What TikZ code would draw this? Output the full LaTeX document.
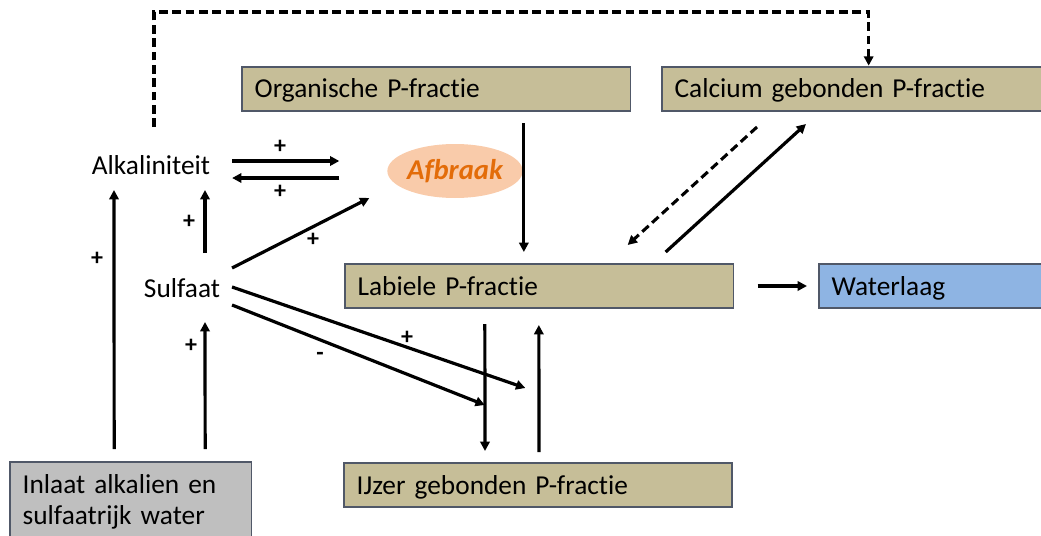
\documentclass[tikz,border=0pt]{standalone}
\usepackage{fontspec}
\setmainfont{Carlito}[Ligatures={NoCommon,NoRequired,NoContextual},WordSpace=0.8]
\usetikzlibrary{arrows.meta,calc,shapes.geometric}
\definecolor{tanfill}{RGB}{198,190,152}
\definecolor{boxline}{RGB}{80,88,104}
\definecolor{bluefill}{RGB}{142,180,227}
\definecolor{grayfill}{RGB}{191,191,191}
\definecolor{peach}{RGB}{249,203,170}
\definecolor{orangetxt}{RGB}{227,108,9}
\tikzset{
  box/.style={draw=boxline, line width=1pt, anchor=north west, align=left,
    inner xsep=9.5pt, inner ysep=0pt, outer sep=0pt, minimum height=33pt,
    text height=13.5pt, text depth=0pt,
    font=\fontsize{20.5}{23}\selectfont},
  lbl/.style={inner sep=0pt, outer sep=0pt, font=\fontsize{20.5}{23}\selectfont},
  sign/.style={inner sep=0pt, font=\fontsize{18}{20}\selectfont\bfseries},
  arr/.style={line width=2.4pt, -{Triangle[length=7pt,width=7pt]}},
  darr/.style={line width=2.3pt, dash pattern=on 6.5pt off 3.5pt, -{Triangle[length=7pt,width=7pt]}}
}
\begin{document}
\begin{tikzpicture}[x=0.75pt,y=-0.75pt]
\useasboundingbox (0,0) rectangle (1041,535);
% boxes
\node[box, fill=tanfill, text width=272.5pt] (org) at (242,67) {Organische P-fractie};
\node[box, fill=tanfill, text width=268pt] (cal) at (662,67) {Calcium gebonden P-fractie};
\node[box, fill=tanfill, text width=272.5pt] (lab) at (345,264) {Labiele P-fractie};
\node[box, fill=bluefill, text width=150.5pt] (wat) at (819,264) {Waterlaag};
\node[box, fill=tanfill, text width=272pt] (ijz) at (344,463) {IJzer gebonden P-fractie};
\node[box, fill=grayfill, text width=162pt, minimum height=60pt, text height=, text depth=, inner ysep=8pt, anchor=north west] (inl) at (10,462) {Inlaat alkalien en\\sulfaatrijk water};
% plain labels
\node[lbl] (alk) at (151,165) {Alkaliniteit};
\node[lbl] (sul) at (182,288) {Sulfaat};
\node[ellipse, fill=peach, minimum width=100.5pt, minimum height=40.5pt, inner sep=0pt, outer sep=0pt,
  text=orangetxt, font=\fontsize{21.5}{23}\selectfont\bfseries\itshape] (afb) at (455,171) {Afbraak};
% connectors
\draw[darr, shorten >=1pt] ([shift={(3,-38)}]alk.center) -- ++(0,-115) -| ([xshift=11.5]cal.north);
\draw[arr] ([shift={(22,-4)}]alk.east) -- ([shift={(-48,-10)}]afb.west);
\draw[arr] ([shift={(-48,7)}]afb.west) -- ([shift={(22,13)}]alk.east);
\draw[arr] ([shift={(-16.5,-13)}]inl.north) -- ([shift={(-37,25)}]alk.center);
\draw[arr] ([shift={(23,-35)}]sul.center) -- ([shift={(54,25)}]alk.center);
\draw[arr] ([shift={(74.5,-13)}]inl.north) -- ([shift={(23,34)}]sul.center);
\draw[arr] ([shift={(12,-20)}]sul.east) -- ([shift={(-18,27)}]afb.west);
\draw[arr] ([shift={(12,-1)}]sul.east) -- ([shift={(-14,80)}]lab.south);
\draw[arr] ([shift={(12,17)}]sul.east) -- ([shift={(-54.5,97)}]lab.south);
\draw[arr] ([shift={(87.5,12)}]org.south) -- ([shift={(-15.5,-12)}]lab.north);
\draw[darr] ([shift={(95,16)}]cal.south west) -- ([shift={(-106,-19)}]lab.north east);
\draw[arr] ([shift={(-68,-12)}]lab.north east) -- ([shift={(144,13)}]cal.south west);
\draw[arr] ([xshift=18]lab.east) -- ([xshift=-9]wat.west);
\draw[arr] ([shift={(-54.5,16)}]lab.south) -- ([shift={(-53,-12)}]ijz.north);
\draw[arr] ([shift={(1,-11)}]ijz.north) -- ([shift={(-0.5,17)}]lab.south);
% signs
\node[sign] (s1) at (280,147) {+};
\node[sign] (s2) at (280,192) {+};
\node[sign] (s3) at (97,259) {+};
\node[sign] (s4) at (189,222) {+};
\node[sign] (s5) at (191,346) {+};
\node[sign] (s6) at (313,240) {+};
\node[sign] (s7) at (407,338) {+};
\node[sign] (s8) at (320,356) {-};
\end{tikzpicture}
\end{document}
